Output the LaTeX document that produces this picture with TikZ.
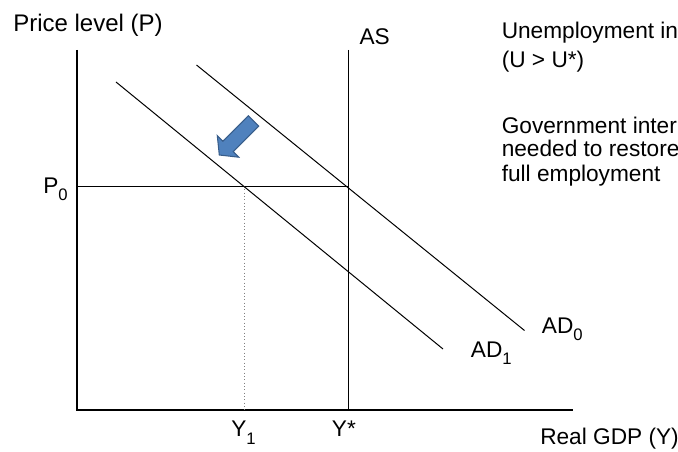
\documentclass[tikz,border=0pt]{standalone}
\usepackage{fontspec}
\setmainfont{Liberation Sans}
\newcommand{\lowsub}[1]{\raisebox{-5.5pt}{\fontsize{12.5pt}{12.5pt}\selectfont #1}}
\definecolor{arrowfill}{HTML}{4F81BD}
\definecolor{arrowedge}{HTML}{385D8A}
\tikzset{
  lbl/.style={anchor=base west, inner sep=0pt, font=\fontsize{17pt}{19pt}\selectfont},
  curve/.style={line width=0.75pt, black},
  axis/.style={line width=0.9pt, black},
  guide/.style={line width=0.6pt, black},
  dotguide/.style={line width=0.5pt, gray, dotted},
}
\begin{document}
\begin{tikzpicture}[x=0.75pt,y=-0.75pt]
\useasboundingbox (0,0) rectangle (678,452);
\clip (0,0) rectangle (678,452);
% coordinates
\coordinate (O) at (77,410);
\coordinate (Ytop) at (77,50);
\coordinate (Xend) at (573,410);
\coordinate (AStop) at (348.3,50);
\coordinate (ASbot) at (348.3,410);
\coordinate (P0L) at (77,186);
\coordinate (E0) at (348.3,186);
\coordinate (E1) at (244.3,186);
\coordinate (Y1b) at (244.3,410);
\coordinate (AD0a) at (196.5,65);
\coordinate (AD0b) at (524.5,330.5);
\coordinate (AD1a) at (116,82);
\coordinate (AD1b) at (443,349);
% axes
\draw[axis] (Ytop) -- (O) -- (Xend);
% AS
\draw[curve] (AStop) -- (ASbot);
% P0 line
\draw[guide] (P0L) -- (E0);
% Y1 dotted
\draw[dotguide] (E1) -- (Y1b);
% AD curves
\draw[curve] (AD0a) -- (AD0b);
\draw[curve] (AD1a) -- (AD1b);
% block arrow
\filldraw[fill=arrowfill, draw=arrowedge, line width=0.8pt, line join=miter]
  (248.3,115.8) -- (258.7,126.2) -- (233.2,151.6) -- (238.7,157.2)
  -- (219.3,155.0) -- (217.3,135.6) -- (222.8,141.2) -- cycle;
% labels
\node[lbl, font=\fontsize{18pt}{20pt}\selectfont] (plab) at (13,31.7) {Price level (P)};
\node[lbl] (aslab) at (359.3,45) {AS};
\node[lbl] (p0lab) at (43,193.3) {P\lowsub{0}};
\node[lbl] (ad0lab) at (541.7,333.3) {AD\lowsub{0}};
\node[lbl] (ad1lab) at (470.7,357.3) {AD\lowsub{1}};
\node[lbl] (y1lab) at (231,436.7) {Y\lowsub{1}};
\node[lbl] (ystarlab) at (331.7,436.7) {Y*};
\node[lbl] (xlab) at (540,444) {Real GDP (Y)};
\node[lbl] (t1) at (501.5,38.3) {Unemployment in};
\node[lbl] (t2) at (501.5,68) {(U > U*)};
\node[lbl] (t3) at (501.5,133.3) {Government inter};
\node[lbl] (t4) at (501.5,156.7) {needed to restore};
\node[lbl] (t5) at (501.5,181.7) {full employment};
\end{tikzpicture}
\end{document}
